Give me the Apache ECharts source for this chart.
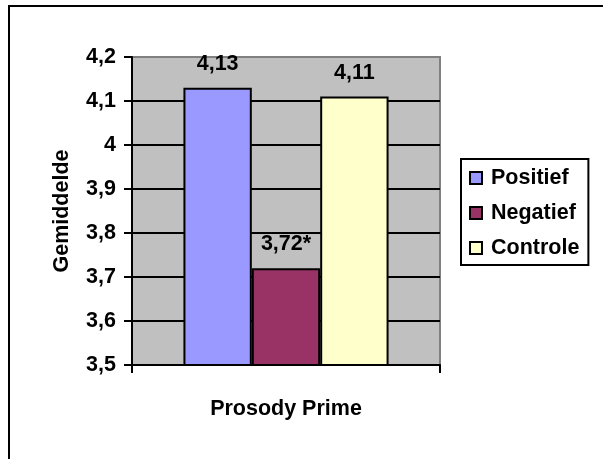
<!DOCTYPE html>
<html>
<head>
<meta charset="utf-8">
<script src="https://cdn.jsdelivr.net/npm/echarts@6/dist/echarts.min.js"></script>
<style>
  html, body { margin: 0; padding: 0; background: #ffffff; }
  #chart { width: 603px; height: 459px; }
</style>
</head>
<body>
<div id="chart"></div>
<script>
// Mean score per prime condition
const categories = ['Prosody Prime'];
const groupNames = ['Positief', 'Negatief', 'Controle'];
const positief = [4.13];
const negatief = [3.72];
const controle = [4.11];
// significance marker appended to each group's value label
const marks = ['', '*', ''];
const groupColors = ['#9999ff', '#993366', '#ffffcc'];

const yMin = 3.5;
const yMax = 4.2;
const yStep = 0.1;

const FONT = 'Liberation Sans';
const FS = 21.5;
const fmtComma = (v, digits) => v.toFixed(digits).replace('.', ',');

const seriesValues = [positief, negatief, controle];

const chart = echarts.init(document.getElementById('chart'), null, { renderer: 'canvas' });

chart.setOption({
  backgroundColor: '#ffffff',
  animation: false,
  textStyle: { fontFamily: FONT, fontWeight: 'bold', color: '#000' },
  graphic: [{
    type: 'rect',
    z: -10,
    shape: { x: 9, y: 6, width: 800, height: 800 },
    style: { fill: null, stroke: '#000', lineWidth: 2 }
  }],
  grid: {
    left: 132, top: 57, right: 163, bottom: 94,
    show: true,
    backgroundColor: '#c0c0c0',
    borderColor: '#808080',
    borderWidth: 2
  },
  legend: {
    orient: 'vertical',
    left: 461, top: 159,
    padding: [8, 9, 6, 8],
    itemGap: 13,
    itemWidth: 12,
    itemHeight: 12,
    borderColor: '#000',
    borderWidth: 2,
    backgroundColor: '#ffffff',
    icon: 'rect',
    data: groupNames,
    textStyle: {
      fontFamily: FONT, fontWeight: 'bold', fontSize: FS, color: '#000',
      lineHeight: 21, padding: [0, 0, 0, 4]
    }
  },
  xAxis: {
    type: 'category',
    data: categories,
    axisLine: { lineStyle: { color: '#000', width: 2 } },
    axisTick: { show: true, length: 8, lineStyle: { color: '#000', width: 2 } },
    axisLabel: {
      margin: 33, fontFamily: FONT, fontWeight: 'bold', fontSize: FS, color: '#000'
    }
  },
  yAxis: {
    type: 'value',
    min: yMin, max: yMax, interval: yStep,
    name: 'Gemiddelde',
    nameLocation: 'middle',
    nameGap: 59,
    nameTextStyle: { fontFamily: FONT, fontWeight: 'bold', fontSize: FS, color: '#000' },
    axisLine: { show: true, lineStyle: { color: '#000', width: 2 } },
    axisTick: { show: true, length: 8, lineStyle: { color: '#000', width: 2 } },
    axisLabel: {
      margin: 16, fontFamily: FONT, fontWeight: 'bold', fontSize: FS, color: '#000',
      formatter: v => String(Math.round(v * 10) / 10).replace('.', ',')
    },
    splitLine: { show: true, showMaxLine: false, lineStyle: { color: '#000', width: 2 } }
  },
  series: groupNames.map((name, i) => ({
    name: name,
    type: 'bar',
    data: seriesValues[i],
    barGap: '0%',
    barCategoryGap: '33.4%',
    itemStyle: { color: groupColors[i], borderColor: '#000', borderWidth: 2 },
    label: {
      show: true,
      position: 'top',
      distance: 13,
      fontFamily: FONT, fontWeight: 'bold', fontSize: FS, color: '#000',
      formatter: p => fmtComma(p.value, 2) + marks[i]
    }
  }))
});
</script>
</body>
</html>
